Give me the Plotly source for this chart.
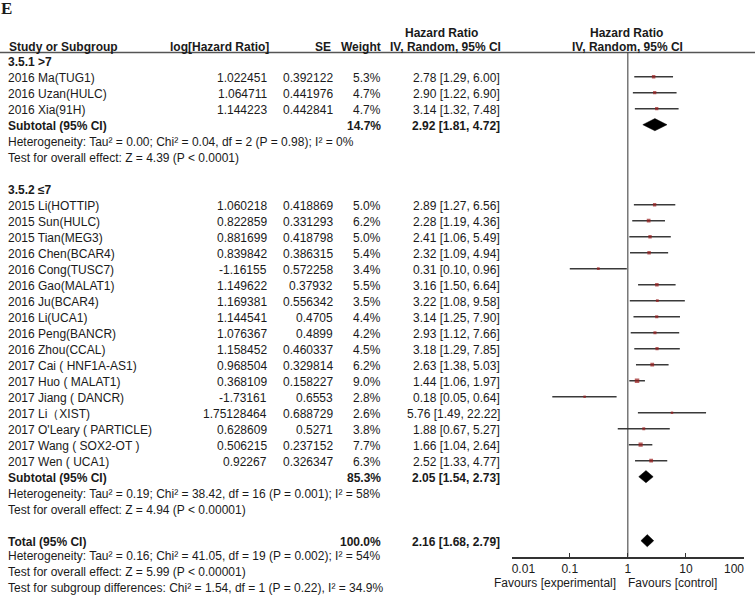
import plotly.graph_objects as go

W, H = 755, 597

# ---------------- data ----------------
g1_name = "3.5.1 >7"
g1_studies = ["2016 Ma(TUG1)", "2016 Uzan(HULC)", "2016 Xia(91H)"]
g1_loghr = [1.022451, 1.064711, 1.144223]
g1_se = [0.392122, 0.441976, 0.442841]
g1_weight = [5.3, 4.7, 4.7]
g1_hr = [2.78, 2.90, 3.14]
g1_lo = [1.29, 1.22, 1.32]
g1_hi = [6.00, 6.90, 7.48]
g1_sub = [14.7, 2.92, 1.81, 4.72]
g1_het = "Heterogeneity: Tau² = 0.00; Chi² = 0.04, df = 2 (P = 0.98); I² = 0%"
g1_test = "Test for overall effect: Z = 4.39 (P < 0.0001)"

g2_name = "3.5.2 ≤7"
g2_studies = ["2015 Li(HOTTIP)", "2015 Sun(HULC)", "2015 Tian(MEG3)", "2016 Chen(BCAR4)",
              "2016 Cong(TUSC7)", "2016 Gao(MALAT1)", "2016 Ju(BCAR4)", "2016 Li(UCA1)",
              "2016 Peng(BANCR)", "2016 Zhou(CCAL)", "2017 Cai ( HNF1A-AS1)", "2017 Huo ( MALAT1)",
              "2017 Jiang ( DANCR)", "2017 Li（XIST)", "2017 O'Leary ( PARTICLE)",
              "2017 Wang ( SOX2-OT )", "2017 Wen ( UCA1)"]
g2_loghr = [1.060218, 0.822859, 0.881699, 0.839842, -1.16155, 1.149622, 1.169381, 1.144541,
            1.076367, 1.158452, 0.968504, 0.368109, -1.73161, 1.75128464, 0.628609,
            0.506215, 0.92267]
g2_se = [0.418869, 0.331293, 0.418798, 0.386315, 0.572258, 0.37932, 0.556342, 0.4705,
         0.4899, 0.460337, 0.329814, 0.158227, 0.6553, 0.688729, 0.5271, 0.237152, 0.326347]
g2_weight = [5.0, 6.2, 5.0, 5.4, 3.4, 5.5, 3.5, 4.4, 4.2, 4.5, 6.2, 9.0, 2.8, 2.6, 3.8, 7.7, 6.3]
g2_hr = [2.89, 2.28, 2.41, 2.32, 0.31, 3.16, 3.22, 3.14, 2.93, 3.18, 2.63, 1.44, 0.18, 5.76,
         1.88, 1.66, 2.52]
g2_lo = [1.27, 1.19, 1.06, 1.09, 0.10, 1.50, 1.08, 1.25, 1.12, 1.29, 1.38, 1.06, 0.05, 1.49,
         0.67, 1.04, 1.33]
g2_hi = [6.56, 4.36, 5.49, 4.94, 0.96, 6.64, 9.58, 7.90, 7.66, 7.85, 5.03, 1.97, 0.64, 22.22,
         5.27, 2.64, 4.77]
g2_sub = [85.3, 2.05, 1.54, 2.73]
g2_het = "Heterogeneity: Tau² = 0.19; Chi² = 38.42, df = 16 (P = 0.001); I² = 58%"
g2_test = "Test for overall effect: Z = 4.94 (P < 0.00001)"

total = [100.0, 2.16, 1.68, 2.79]
total_het = "Heterogeneity: Tau² = 0.16; Chi² = 41.05, df = 19 (P = 0.002); I² = 54%"
total_test = "Test for overall effect: Z = 5.99 (P < 0.00001)"
subgroup_test = "Test for subgroup differences: Chi² = 1.54, df = 1 (P = 0.22), I² = 34.9%"

x_ticks = [0.01, 0.1, 1, 10, 100]
x_ticklabels = ["0.01", "0.1", "1", "10", "100"]

# ---------------- layout geometry ----------------
ROW0 = 60.7      # pixel y of first row
ROWH = 16.0      # pixel per row
HEAD_LINE = 52.5
AXIS_Y = 556.7
PLOT_L, PLOT_R = 511.7, 744.0

FONT = "Arial, Liberation Sans, sans-serif"
TXT = "#1a1a1a"
FS = 12

X_STUDY, X_LOG, X_SE, X_W, X_CI = 8, 267, 333, 381, 500


def py(pix):
    return 1 - pix / H


def px(pix):
    return pix / W


def row_pix(i):
    return ROW0 + ROWH * i


annotations = []


def text(x, ypix, s, anchor="left", bold=False, size=FS, family=FONT):
    if bold:
        s = "<b>" + s + "</b>"
    annotations.append(dict(x=px(x), y=py(ypix + 1), xref="paper", yref="paper", text=s,
                            showarrow=False, xanchor=anchor, yanchor="middle",
                            align=anchor if anchor != "center" else "center",
                            borderpad=0, borderwidth=0,
                            font=dict(family=family, size=size, color=TXT)))


def fmt_ci(v):
    return "%.2f [%.2f, %.2f]" % (v[1], v[2], v[3])


# ---------------- build rows ----------------
study_rows, study_hr, study_lo, study_hi, study_w = [], [], [], [], []
diamonds = []

r = 0
for name, studies, lhr, se, w, hr, lo, hi, sub, het, test in [
        (g1_name, g1_studies, g1_loghr, g1_se, g1_weight, g1_hr, g1_lo, g1_hi, g1_sub, g1_het, g1_test),
        (g2_name, g2_studies, g2_loghr, g2_se, g2_weight, g2_hr, g2_lo, g2_hi, g2_sub, g2_het, g2_test)]:
    text(X_STUDY, row_pix(r), name, bold=True)
    r += 1
    for k in range(len(studies)):
        yp = row_pix(r)
        text(X_STUDY, yp, studies[k])
        text(X_LOG, yp, str(lhr[k]), anchor="right")
        text(X_SE, yp, str(se[k]), anchor="right")
        text(X_W, yp, "%.1f%%" % w[k], anchor="right")
        text(X_CI, yp, "%.2f [%.2f, %.2f]" % (hr[k], lo[k], hi[k]), anchor="right")
        study_rows.append(r)
        study_hr.append(hr[k])
        study_lo.append(lo[k])
        study_hi.append(hi[k])
        study_w.append(w[k])
        r += 1
    yp = row_pix(r)
    text(X_STUDY, yp, "Subtotal (95% CI)", bold=True)
    text(X_W, yp, "%.1f%%" % sub[0], anchor="right", bold=True)
    text(X_CI, yp, fmt_ci(sub), anchor="right", bold=True)
    diamonds.append((r, sub))
    r += 1
    text(X_STUDY, row_pix(r), het)
    r += 1
    text(X_STUDY, row_pix(r), test)
    r += 2

yp = row_pix(r)
text(X_STUDY, yp, "Total (95% CI)", bold=True)
text(X_W, yp, "%.1f%%" % total[0], anchor="right", bold=True)
text(X_CI, yp, fmt_ci(total), anchor="right", bold=True)
diamonds.append((r, total))
r += 1
for s in [total_het, total_test, subgroup_test]:
    text(X_STUDY, row_pix(r) - 1.5, s)
    r += 1

# headers
text(X_STUDY + 1, 46.5, "Study or Subgroup", bold=True)
text(269, 46.5, "log[Hazard Ratio]", anchor="right", bold=True)
text(331, 46.5, "SE", anchor="right", bold=True)
text(381, 46.5, "Weight", anchor="right", bold=True)
text(441, 32, "Hazard Ratio", anchor="center", bold=True)
text(446, 46.5, "IV, Random, 95% CI", anchor="center", bold=True)
text(626, 32, "Hazard Ratio", anchor="center", bold=True)
text(627, 46.5, "IV, Random, 95% CI", anchor="center", bold=True)
text(616, 582, "Favours [experimental]", anchor="right")
text(628, 582, "Favours [control]", anchor="left")
text(1, 8, "E", bold=True, size=17, family="Times New Roman, Liberation Serif, serif")

# ---------------- traces ----------------
fig = go.Figure()

cx, cy = [], []
for i in range(len(study_rows)):
    cx += [study_lo[i], study_hi[i], None]
    cy += [study_rows[i], study_rows[i], None]
fig.add_trace(go.Scatter(x=cx, y=cy, mode="lines", line=dict(color="#3a3a3a", width=1.5),
                         hoverinfo="skip", showlegend=False))

fig.add_trace(go.Scatter(x=study_hr, y=study_rows, mode="markers",
                         marker=dict(symbol="square", color="#9b1c1c",
                                     size=[1.5 * w ** 0.5 for w in study_w], line=dict(width=0)),
                         showlegend=False))

DH = 0.38
for rr, d in diamonds:
    fig.add_trace(go.Scatter(x=[d[2], d[1], d[3], d[1], d[2]],
                             y=[rr, rr - DH, rr, rr + DH, rr],
                             mode="lines", fill="toself", fillcolor="black",
                             line=dict(color="black", width=0.5), showlegend=False))

# invisible anchors so the two end-label axes are drawn
for ax in ["x2", "x3"]:
    fig.add_trace(go.Scatter(x=[1], y=[study_rows[0]], xaxis=ax, yaxis="y", mode="markers",
                             marker=dict(opacity=0, size=1), hoverinfo="skip", showlegend=False))

ydom = [1 - AXIS_Y / H, 1 - HEAD_LINE / H]
yrange = [(AXIS_Y - ROW0) / ROWH, (HEAD_LINE - ROW0) / ROWH]
xdom = [px(PLOT_L), px(PLOT_R)]

end_axis = dict(type="log", range=[-2, 2], domain=xdom, automargin=False, overlaying="x",
                anchor="y", side="bottom", ticks="", showline=False, showgrid=False,
                zeroline=False, ticklabeloverflow="allow", ticklabelstandoff=3,
                tickfont=dict(family=FONT, size=FS, color=TXT))

fig.update_layout(
    template="none",
    width=W, height=H, autosize=False,
    margin=dict(l=0, r=0, t=0, b=0, pad=0, autoexpand=False),
    paper_bgcolor="white", plot_bgcolor="white", showlegend=False,
    xaxis=dict(type="log", range=[-2, 2], domain=xdom, automargin=False,
               tickvals=x_ticks, ticktext=[""] + x_ticklabels[1:-1] + [""],
               ticks="inside", ticklen=4, ticklabeloverflow="allow",
               tickwidth=1.2, tickcolor="#333", showline=True, linecolor="#333", linewidth=1.5,
               showgrid=False, zeroline=False, anchor="y",
               tickfont=dict(family=FONT, size=FS, color=TXT)),
    xaxis2=dict(end_axis, tickvals=[x_ticks[0]], ticktext=[x_ticklabels[0]],
                ticklabelposition="outside right"),
    xaxis3=dict(end_axis, tickvals=[x_ticks[-1]], ticktext=[x_ticklabels[-1]],
                ticklabelposition="outside left"),
    yaxis=dict(domain=ydom, range=yrange, visible=False, showgrid=False, zeroline=False,
               automargin=False),
    annotations=annotations,
    shapes=[
        dict(type="line", xref="paper", yref="paper", x0=0, x1=1,
             y0=py(HEAD_LINE), y1=py(HEAD_LINE), line=dict(color="#555", width=1.5)),
        dict(type="line", xref="x", yref="y domain", x0=1, x1=1, y0=0, y1=1,
             line=dict(color="#333", width=1)),
    ],
)

fig.write_html("out.html", config={"displayModeBar": False, "responsive": False},
               post_script="document.body.style.margin='0';document.body.style.overflow='hidden';")
